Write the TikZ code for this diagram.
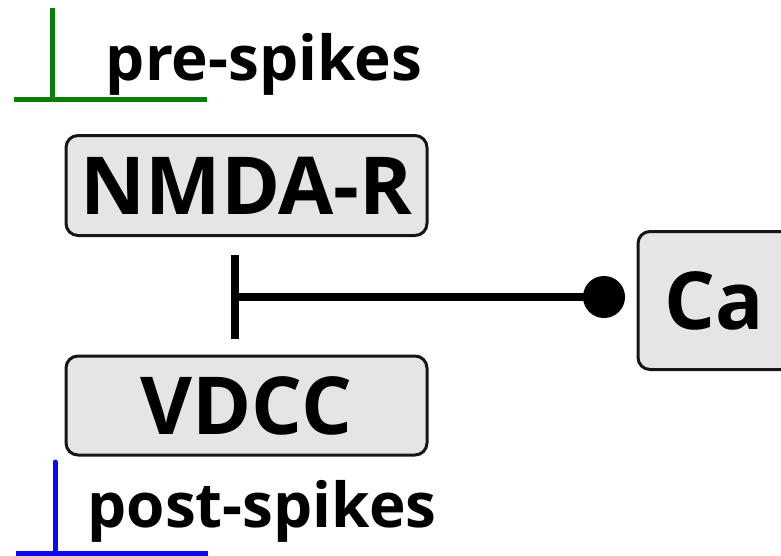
\documentclass[tikz,border=0pt]{standalone}
\usepackage{fontspec}
\setmainfont{Open Sans}
\usetikzlibrary{arrows.meta}
\definecolor{boxfill}{HTML}{E5E5E5}
\definecolor{boxline}{HTML}{151515}
\definecolor{pregreen}{HTML}{0A7D0A}
\definecolor{postblue}{HTML}{0A0AF0}
\begin{document}
\begin{tikzpicture}[x=1pt,y=-1pt,
  chan/.style={draw=boxline,line width=3pt,fill=boxfill,rounded corners=12pt,
    inner sep=0pt,font=\fontsize{80}{96}\selectfont\bfseries},
  spikelabel/.style={inner sep=0pt,anchor=base,font=\fontsize{62}{74}\selectfont\bfseries},
  spike/.style={line width=5pt}]
\useasboundingbox (0,0) rectangle (781,555);
\clip (0,0) rectangle (781,555);
% channel boxes
\node[chan,minimum width=361pt,minimum height=100pt] (nmda) at (246.5,185.5) {NMDA-R};
\node[chan,minimum width=361pt,minimum height=99pt] (vdcc) at (246.5,405.5) {VDCC};
\node[chan,minimum width=160pt,minimum height=138pt,anchor=west] (ca) at (636.5,300.5) {\hspace*{-8pt}Ca};
% calcium inhibits the channels
\coordinate (bar) at (231,297);
\coordinate (dotend) at (625,297);
\draw[line width=8pt,{Circle[length=42pt,width=42pt]}-{Bar[width=84pt]}] (dotend) -- (bar);
% pre-synaptic spike train
\coordinate (pretop) at (52.5,8);
\coordinate (prefoot) at (52.5,99.5);
\coordinate (preleft) at (14,99.5);
\coordinate (preright) at (207,99.5);
\draw[spike,pregreen] (pretop) -- (prefoot);
\draw[spike,pregreen] (preleft) -- (preright);
\node[spikelabel] (pre) at (264,80) {pre-spikes};
% post-synaptic spike train
\coordinate (posttop) at (55,462);
\coordinate (postfoot) at (55,553);
\coordinate (postleft) at (16,553);
\coordinate (postright) at (208,553);
\draw[spike,postblue,line cap=round] (posttop) -- (postfoot);
\draw[spike,postblue] (postleft) -- (postright);
\node[spikelabel] (post) at (262,527) {post-spikes};
\end{tikzpicture}
\end{document}
